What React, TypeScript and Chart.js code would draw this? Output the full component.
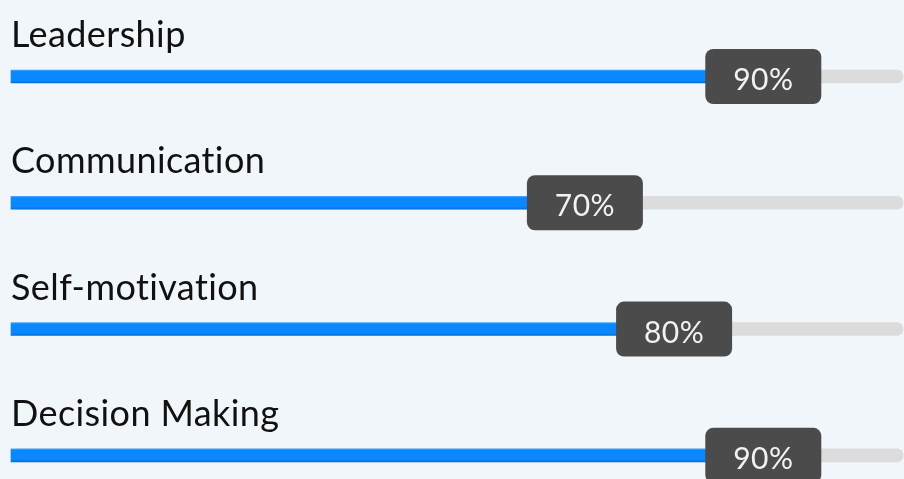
import React, { useEffect, useRef } from "react";
import { Chart, registerables } from "chart.js";

Chart.register(...registerables);

const skills = ["Leadership", "Communication", "Self-motivation", "Decision Making"];
const levels = [90, 70, 80, 90];
const trackMax = [100, 100, 100, 100];

export default function App() {
  const ref = useRef<HTMLCanvasElement>(null);

  useEffect(() => {
    if (!ref.current) return;

    const labelPlugin = {
      id: "skillLabels",
      afterDatasetsDraw(chart: any) {
        const ctx = chart.ctx as any;
        const meta = chart.getDatasetMeta(0);
        meta.data.forEach((bar: any, i: number) => {
          const x = bar.x;
          const y = bar.y;
          ctx.save();
          ctx.fillStyle = "#111111";
          ctx.font = "36px Lato";
          ctx.letterSpacing = "0.4px";
          ctx.textAlign = "left";
          ctx.textBaseline = "alphabetic";
          ctx.fillText(skills[i], chart.chartArea.left, y - 29.5);

          const w = 116;
          const h = 55;
          const bx = x - 50.5 - w / 2;
          const by = y - h / 2;
          ctx.fillStyle = "#4b4b4b";
          ctx.beginPath();
          ctx.roundRect(bx, by, w, h, 8);
          ctx.fill();

          ctx.fillStyle = "#f2f2f2";
          ctx.font = "30px Lato";
          ctx.letterSpacing = "0.5px";
          ctx.textAlign = "center";
          ctx.textBaseline = "middle";
          ctx.fillText(levels[i] + "%", bx + w / 2, y + 4);
          ctx.restore();
        });
      },
    };

    const blueFill = (c: any) => {
      const chart = c.chart;
      const ys = chart.scales?.y;
      if (!chart.chartArea || !ys) return "#0a88ff";
      const y = ys.getPixelForValue(c.dataIndex);
      const g = chart.ctx.createLinearGradient(0, y - 6.5, 0, y + 6.5);
      g.addColorStop(0, "#4aa6ff");
      g.addColorStop(0.12, "#0a88ff");
      g.addColorStop(0.8, "#0a88ff");
      g.addColorStop(1, "#0670d8");
      return g;
    };

    const chart = new Chart(ref.current, {
      type: "bar",
      data: {
        labels: skills,
        datasets: [
          {
            data: levels,
            backgroundColor: blueFill,
            barThickness: 13,
            borderRadius: 0,
            grouped: false,
            clip: false,
          } as any,
          {
            data: trackMax,
            backgroundColor: "#dcdcdc",
            barThickness: 13,
            borderRadius: 6,
            borderSkipped: false,
            grouped: false,
            clip: false,
          } as any,
        ],
      },
      options: {
        indexAxis: "y",
        responsive: false,
        devicePixelRatio: 1,
        animation: false,
        layout: { padding: { left: 11, right: 1, top: 76.5, bottom: 23.7 } },
        scales: {
          x: { min: 0, max: 100, display: false },
          y: { type: "category", offset: false, display: false },
        },
        plugins: {
          legend: { display: false },
          tooltip: { enabled: false },
        },
      },
      plugins: [labelPlugin],
    });

    return () => chart.destroy();
  }, []);

  return (
    <div
      style={{
        position: "fixed",
        left: 0,
        top: 0,
        width: 904,
        height: 479,
        background: "#f1f6fb",
      }}
    >
      <canvas ref={ref} width={904} height={479} style={{ display: "block" }} />
    </div>
  );
}
